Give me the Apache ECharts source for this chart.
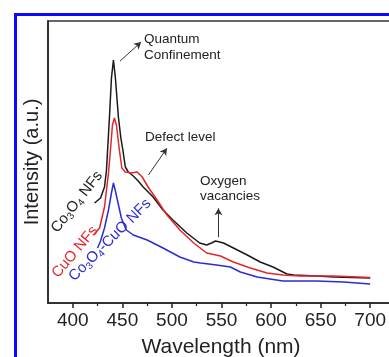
<!DOCTYPE html>
<html>
<head>
<meta charset="utf-8">
<script src="https://cdn.jsdelivr.net/npm/echarts@6/dist/echarts.min.js"></script>
<style>
html, body { margin: 0; padding: 0; background: #fff; }
#pl { width: 389px; height: 357px; }
</style>
</head>
<body>
<div id="pl"></div>
<script>
// PL spectra, wavelength (nm) and intensity (a.u.)
const co3o4Wl = [422, 428, 432, 434, 437, 439, 441, 443, 446, 448.5, 450.5, 453, 456, 461, 466, 471, 481, 491, 501, 515, 528, 535, 540, 544, 552, 562, 576, 589, 602, 616, 623, 646, 663, 700]
const co3o4Int = [100, 105, 116, 133, 186, 225, 243, 225, 186, 165, 153, 136, 131, 127, 122, 116, 106, 93, 83, 70, 60, 58, 60, 62, 60, 55, 48, 41, 36, 29, 28, 27, 26, 25]

const cuoWl = [421, 427, 432, 436, 438, 440, 442, 444, 447, 449.5, 453, 459, 465, 470, 476, 485, 495, 508, 522, 535, 549, 562, 579, 596, 612, 629, 663, 700]
const cuoInt = [68, 75, 96, 130, 153, 178, 185, 178, 153, 135, 131, 130, 131, 126, 116, 103, 88, 73, 60, 50, 47, 41, 35, 30, 28, 27, 27, 25.5]

const mixWl = [425, 428, 432, 436, 439, 441, 443, 445, 449, 454, 461, 475, 491, 508, 522, 529, 545, 559, 569, 586, 612, 646, 673, 700]
const mixInt = [55, 62, 75, 93, 110, 120, 112, 103, 85, 73, 68, 63, 55, 46, 41, 40, 38, 36, 31, 26, 22, 22, 21, 19]

const majorTicks = [400, 450, 500, 550, 600, 650, 700]
const minorTicks = [425, 475, 525, 575, 625, 675]

// annotation arrows [from, to] in data units
const arrows = [
  [[447.7, 242], [468.9, 261]],
  [[476.3, 128], [494.9, 154.7]],
  [[546.9, 65.7], [546.9, 94.7]]
]

const FONT = '"Liberation Sans", Arial, sans-serif'

function pairs (xs, ys) {
  return xs.map((x, i) => [x, ys[i]])
}

function initChart () {
  const chart = echarts.init(document.getElementById('pl'))
  const subRich = {
    s: { fontSize: 10, fontFamily: FONT, padding: [8, 0, 0, 0] }
  }
  const option = {
    backgroundColor: '#fff',
    animation: false,
    grid: {
      left: 48,
      top: 21,
      width: 346,
      height: 282,
      outerBoundsMode: 'none',
      show: true,
      borderColor: '#333',
      borderWidth: 1.5
    },
    xAxis: [
      {
        type: 'value',
        min: 375,
        max: 724,
        position: 'bottom',
        name: 'Wavelength (nm)',
        nameLocation: 'middle',
        nameGap: 34,
        nameTextStyle: { fontSize: 21, color: '#222', fontFamily: FONT },
        splitLine: { show: false },
        axisLine: { lineStyle: { color: '#222', width: 1.5 } },
        axisTick: { customValues: majorTicks, length: 5, lineStyle: { color: '#222', width: 1.5 } },
        axisLabel: { customValues: majorTicks, fontSize: 19, color: '#222', margin: 8, fontFamily: FONT }
      },
      {
        type: 'value',
        min: 375,
        max: 724,
        position: 'bottom',
        splitLine: { show: false },
        axisLine: { show: false },
        axisTick: { customValues: minorTicks, length: 3, lineStyle: { color: '#222', width: 1.2 } },
        axisLabel: { show: false }
      }
    ],
    yAxis: {
      type: 'value',
      min: 0,
      max: 282,
      name: 'Intensity (a.u.)',
      nameLocation: 'middle',
      nameGap: 6,
      nameTextStyle: { fontSize: 20, color: '#222', fontFamily: FONT },
      splitLine: { show: false },
      axisLine: { show: true, lineStyle: { color: '#222', width: 1.5 } },
      axisTick: { show: false },
      axisLabel: { show: false }
    },
    series: [
      {
        name: 'Co3O4 NFs',
        type: 'line',
        showSymbol: false,
        data: pairs(co3o4Wl, co3o4Int),
        lineStyle: { color: '#1a1a1a', width: 1.5 },
        markLine: {
          silent: true,
          symbol: ['none', 'arrow'],
          symbolSize: [6, 7],
          label: { show: false },
          lineStyle: { color: '#333', width: 1, type: 'solid' },
          data: arrows.map(a => [{ coord: a[0] }, { coord: a[1] }])
        }
      },
      {
        name: 'CuO NFs',
        type: 'line',
        showSymbol: false,
        data: pairs(cuoWl, cuoInt),
        lineStyle: { color: '#e3262b', width: 1.5 }
      },
      {
        name: 'Co3O4-CuO NFs',
        type: 'line',
        showSymbol: false,
        data: pairs(mixWl, mixInt),
        lineStyle: { color: '#2c2cd0', width: 1.5 }
      }
    ],
    graphic: [
      // blue frame
      {
        type: 'rect',
        shape: { x: 15.5, y: 14.5, width: 420, height: 400 },
        style: { fill: null, stroke: '#0a0aff', lineWidth: 3 },
        silent: true
      },
      {
        type: 'text',
        x: 144,
        y: 31,
        style: { text: 'Quantum\nConfinement', font: '13.5px ' + FONT, fill: '#222', lineHeight: 16, verticalAlign: 'top' }
      },
      {
        type: 'text',
        x: 145,
        y: 137,
        style: { text: 'Defect level', font: '13.5px ' + FONT, fill: '#222', verticalAlign: 'middle' }
      },
      {
        type: 'text',
        x: 200,
        y: 174,
        style: { text: 'Oxygen\nvacancies', font: '13.5px ' + FONT, fill: '#222', lineHeight: 15, verticalAlign: 'top' }
      },
      // rotated series labels
      {
        type: 'text',
        x: 77,
        y: 202,
        rotation: 52 * Math.PI / 180,
        style: {
          text: 'Co{s|3}O{s|4} NFs',
          font: '15px ' + FONT,
          fill: '#222',
          align: 'center',
          verticalAlign: 'middle',
          rich: subRich
        }
      },
      {
        type: 'text',
        x: 75,
        y: 252,
        rotation: 50 * Math.PI / 180,
        style: {
          text: 'CuO NFs',
          font: '15px ' + FONT,
          fill: '#e3262b',
          align: 'center',
          verticalAlign: 'middle'
        }
      },
      {
        type: 'text',
        x: 110,
        y: 240,
        rotation: 45 * Math.PI / 180,
        style: {
          text: 'Co{s|3}O{s|4}-CuO NFs',
          font: '15px ' + FONT,
          fill: '#2c2cd0',
          align: 'center',
          verticalAlign: 'middle',
          rich: subRich
        }
      }
    ]
  }
  chart.setOption(option)
}

initChart()
</script>
</body>
</html>
